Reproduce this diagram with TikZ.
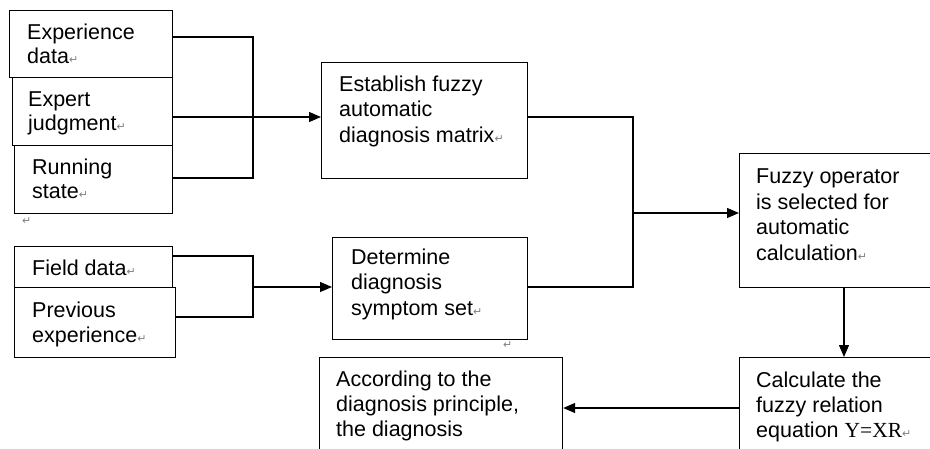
\documentclass[tikz,border=0pt]{standalone}
\usepackage{fontspec}
\setmainfont{Liberation Sans}
\newfontfamily\pilfont{DejaVu Sans}
\newfontfamily\serfont{Liberation Serif}
\usetikzlibrary{arrows.meta}
\newcommand\pilmark{{\pilfont\fontsize{11}{11}\selectfont\textcolor{gray}{↵}}}
\begin{document}
\begin{tikzpicture}[x=1pt,y=-1pt,
  box/.style={draw, line width=1.2pt, inner sep=0pt, anchor=north west},
  txt/.style={anchor=base west, inner sep=0pt, align=left, font=\fontsize{21.5}{24}\selectfont},
  txtb/.style={txt, font=\fontsize{21.5}{25.5}\selectfont},
  txtc/.style={txt, font=\fontsize{21.5}{25}\selectfont},
  pil/.style={inner sep=0pt, anchor=base west},
  link/.style={draw, line width=1.2pt},
  arr/.style={link, -{Triangle[length=12pt,width=10pt]}}]
\useasboundingbox (0,0) rectangle (930,448);
\clip (0,0) rectangle (930,448);
% boxes
\node[box, minimum width=163pt, minimum height=67pt] (exp) at (9,10) {};
\node[box, minimum width=160pt, minimum height=68pt] (ejd) at (12,77) {};
\node[box, minimum width=158pt, minimum height=68pt] (run) at (14,145) {};
\node[box, minimum width=158pt, minimum height=41pt] (fld) at (14,246) {};
\node[box, minimum width=161pt, minimum height=70pt] (prv) at (14,287) {};
\node[box, minimum width=206pt, minimum height=116pt] (est) at (321,62) {};
\node[box, minimum width=195pt, minimum height=102pt] (det) at (332,237) {};
\node[box, minimum width=205pt, minimum height=134pt] (fuz) at (739,153) {};
\node[box, minimum width=205pt, minimum height=100pt] (calc) at (739,357) {};
\node[box, minimum width=243pt, minimum height=100pt] (acc) at (319,357) {};
% texts (anchored at the baseline of the last line)
\node[txt] (t1) at (27,63) {Experience\\data\pilmark};
\node[txt] (t2) at (28,130) {Expert\\judgment\pilmark};
\node[txt] (t3) at (32,198) {Running\\state\pilmark};
\node[txt] (t4) at (32,275) {Field data\pilmark};
\node[txtc] (t5) at (32,342) {Previous\\experience\pilmark};
\node[txtb] (t6) at (339,142) {Establish fuzzy\\automatic\\diagnosis matrix\pilmark};
\node[txtb] (t7) at (351,315) {Determine\\diagnosis\\symptom set\pilmark};
\node[txtb] (t8) at (756,260) {Fuzzy operator\\is selected for\\automatic\\calculation\pilmark};
\node[txtc] (t9) at (756,437) {Calculate the\\fuzzy relation\\equation {\serfont Y=XR}\pilmark};
\node[txtc] (t10) at (336,436) {According to the\\diagnosis principle,\\the diagnosis};
\node[pil] (p1) at (22,224) {\pilmark};
\node[pil] (p2) at (503,348) {\pilmark};
% junction coordinates
\coordinate (ja) at (253,37);
\coordinate (jb) at (253,178);
\coordinate (y1) at (0,117);
\coordinate (jc) at (253,256);
\coordinate (jd) at (253,317);
\coordinate (y2) at (0,287);
\coordinate (je) at (633,117);
\coordinate (jf) at (633,287);
\coordinate (y3) at (0,213);
\coordinate (x4) at (844,0);
\coordinate (y5) at (0,408);
% connectors
\draw[link] (exp.east |- ja) -- (ja) -- (jb) -- (run.east |- jb);
\draw[arr] (ejd.east |- y1) -- (est.west |- y1);
\draw[link] (fld.east |- jc) -- (jc) -- (jd) -- (prv.east |- jd);
\draw[arr] (jc |- y2) -- (det.west |- y2);
\draw[link] (est.east |- je) -- (je) -- (jf) -- (det.east |- jf);
\draw[arr] (je |- y3) -- (fuz.west |- y3);
\draw[arr] (fuz.south -| x4) -- (calc.north -| x4);
\draw[arr] (calc.west |- y5) -- (acc.east |- y5);
\end{tikzpicture}
\end{document}
